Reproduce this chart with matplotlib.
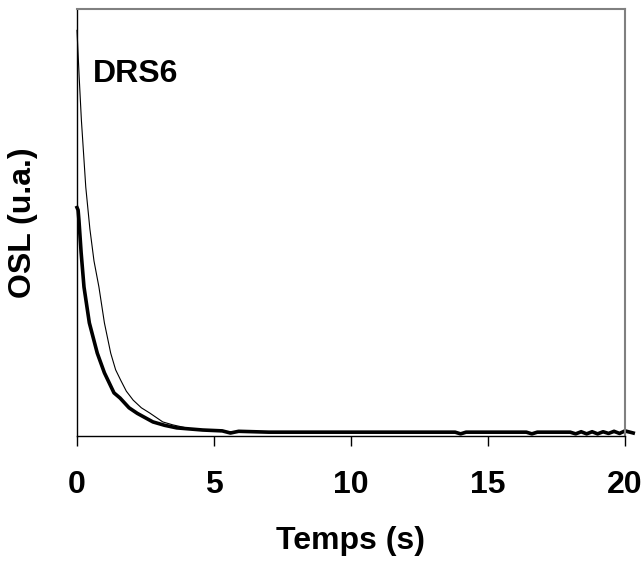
import matplotlib
matplotlib.use("Agg")
import matplotlib.pyplot as plt

# --- Données (OSL en unités arbitraires) ---
t_fin = [0, 0.08, 0.16, 0.32, 0.47, 0.62, 0.80, 1.0, 1.23, 1.41, 1.6,
         1.8, 2.05, 2.35, 2.65, 3.13, 3.5, 4.2, 5.0, 7.0, 10.0, 15.0, 20.3]
osl_fin = [95.0, 84.0, 74.0, 58.3, 48.5, 41.0, 34.9, 26.5, 19.4, 15.5,
           13.0, 10.5, 8.4, 6.6, 5.4, 3.3, 2.6, 1.6, 1.1, 0.9, 0.8, 0.8, 0.8]

t_epais = [0, 0.04, 0.07, 0.15, 0.255, 0.45, 0.74, 1.0, 1.35, 1.57, 1.9,
           2.2, 2.77, 3.2, 3.64, 4.59, 5.3, 5.6, 5.9, 7.0, 10.0, 13.8,
           14.0, 14.2, 16.4, 16.6, 16.8, 18.0, 18.2, 18.4, 18.6, 18.8,
           19.0, 19.2, 19.4, 19.6, 19.8, 20.0, 20.3]
osl_epais = [53.5, 52.9, 50.6, 43.0, 34.9, 26.5, 19.4, 14.8, 10.1, 8.9,
             6.6, 5.3, 3.3, 2.5, 1.9, 1.4, 1.2, 0.7, 1.1, 0.9, 0.9, 0.9,
             0.5, 0.9, 0.9, 0.5, 0.9, 0.9, 0.5, 1.0, 0.5, 1.0, 0.5,
             1.0, 0.6, 1.1, 0.6, 1.2, 0.7]

x_ticks = [0, 5, 10, 15, 20]

plt.rcParams['font.family'] = ['Liberation Sans', 'DejaVu Sans']
plt.rcParams['font.weight'] = 'bold'

fig = plt.figure(figsize=(6.43, 5.63), dpi=100)
ax = fig.add_axes([77 / 643, 127 / 563, 548 / 643, 427 / 563])

ax.plot(t_fin, osl_fin, color='black', lw=0.8, clip_on=False)
ax.plot(t_epais, osl_epais, color='black', lw=2.6, clip_on=False)

ax.set_xlim(0, 20)
ax.set_ylim(0, 100)
ax.set_xticks(x_ticks)
ax.set_xticklabels([str(v) for v in x_ticks], fontsize=23, fontweight='bold')
ax.set_yticks([])
ax.tick_params(axis='x', direction='out', length=7.5, width=1, pad=17)

for side in ('left', 'bottom'):
    ax.spines[side].set_color('black')
    ax.spines[side].set_linewidth(1)
for side in ('top', 'right'):
    ax.spines[side].set_color('#808080')
    ax.spines[side].set_linewidth(1.5)

ax.set_xlabel('Temps (s)', fontsize=23, fontweight='bold', labelpad=19)
ax.set_ylabel('OSL (u.a.)', fontsize=23, fontweight='bold', labelpad=28)

ax.text(93 / 643, 1 - 82 / 563, 'DRS6', transform=fig.transFigure,
        fontsize=23, fontweight='bold', ha='left', va='baseline')

fig.savefig('out.png', dpi=100)
